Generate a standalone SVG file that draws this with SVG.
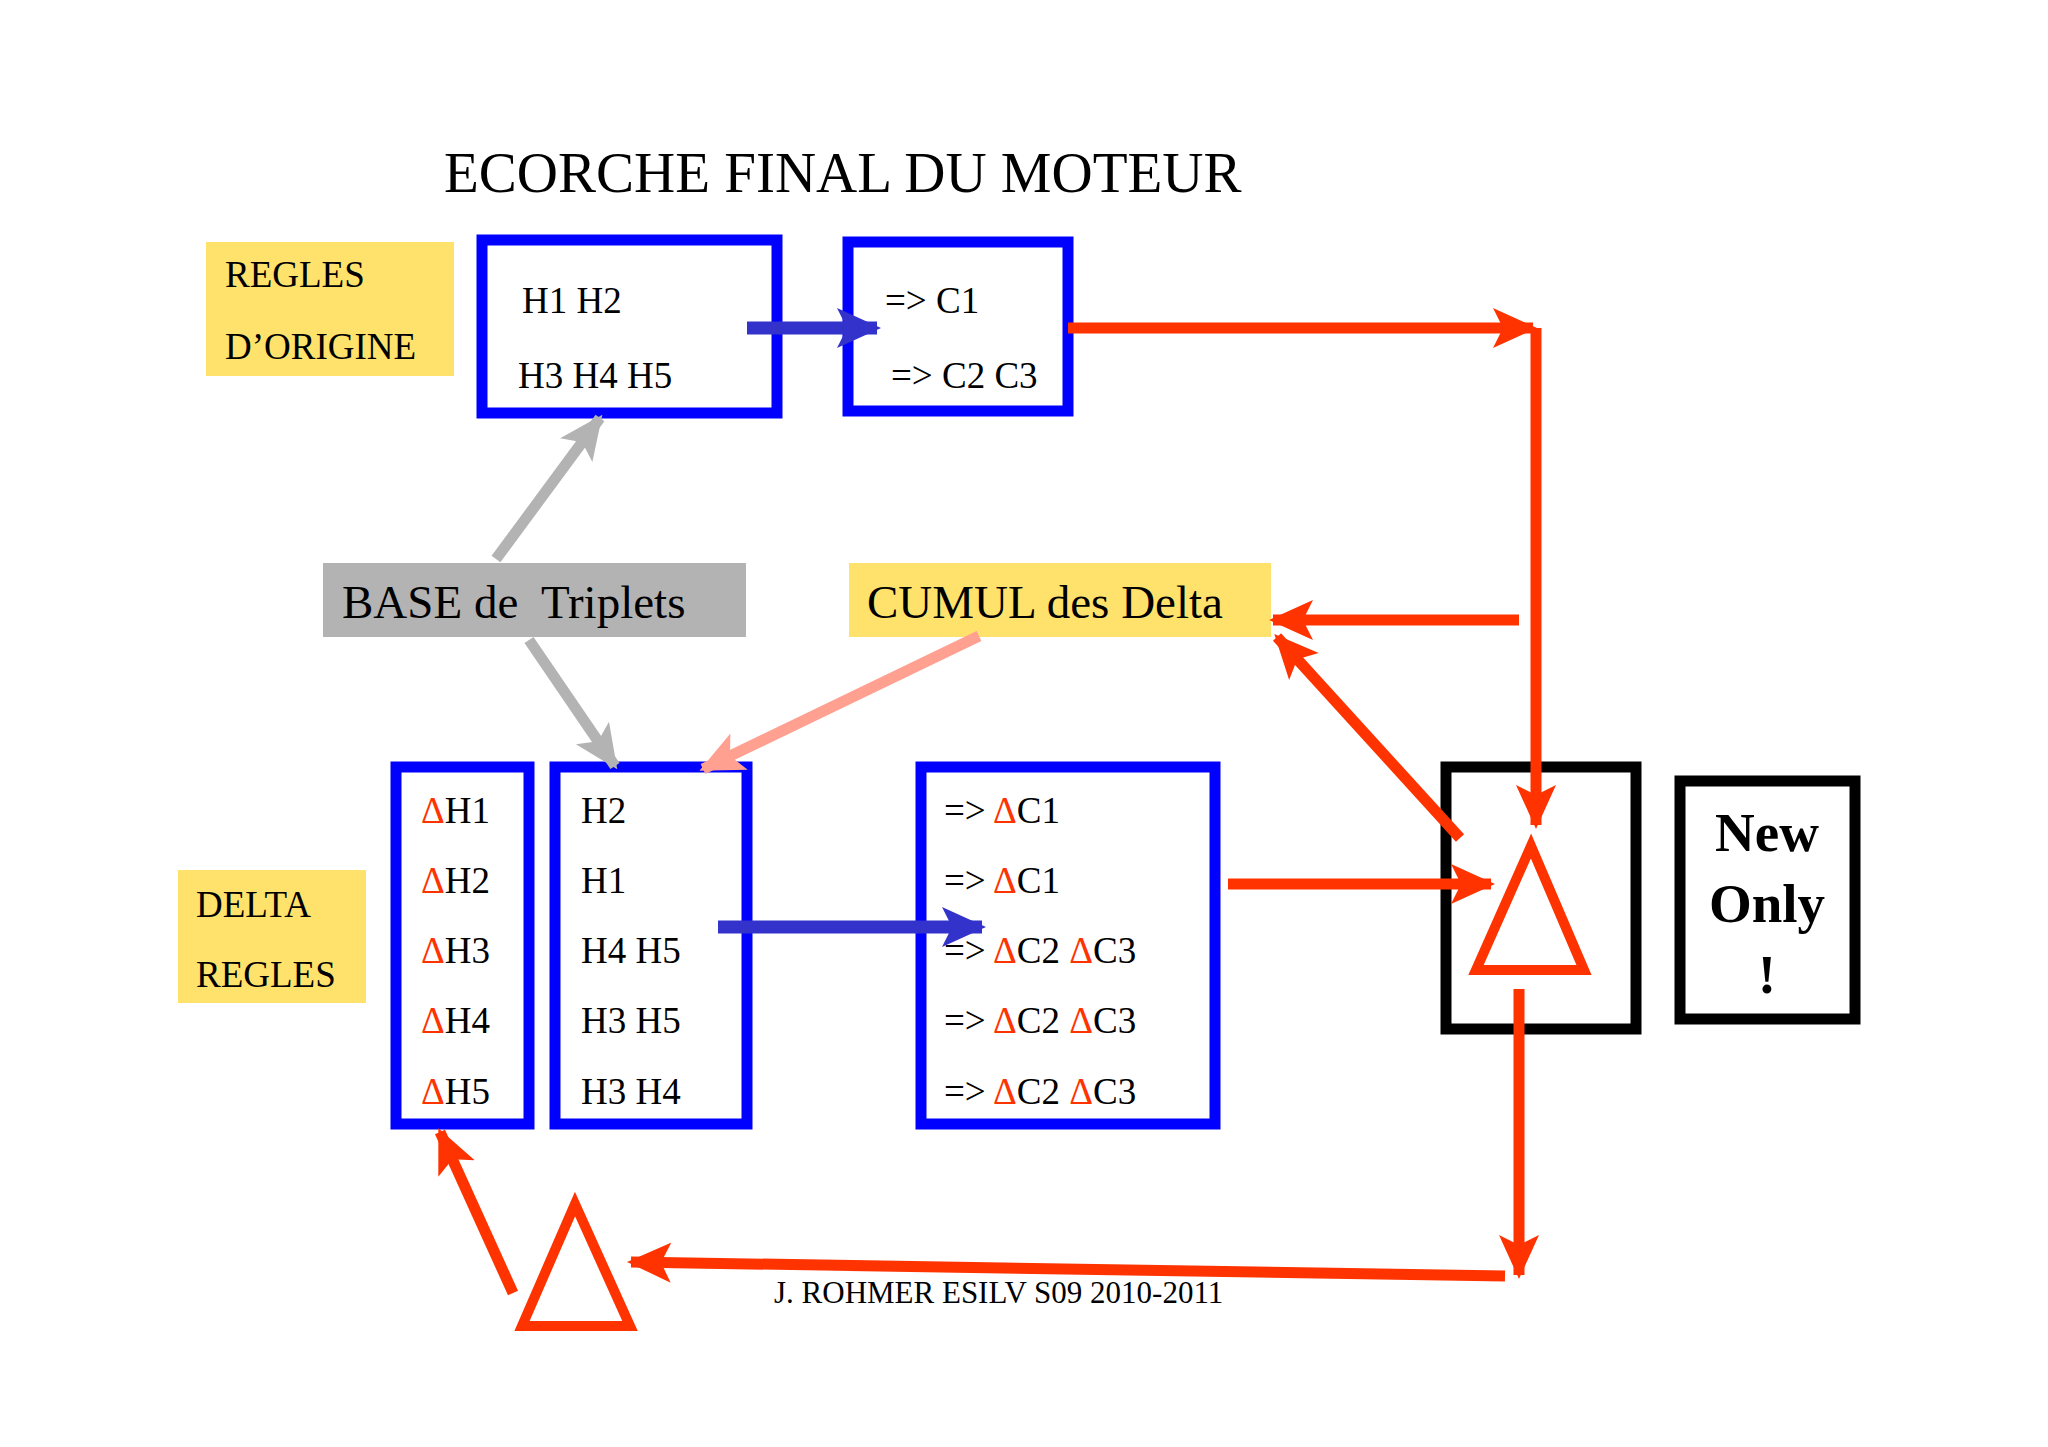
<svg xmlns="http://www.w3.org/2000/svg" width="2048" height="1447" viewBox="0 0 2048 1447">
<style>
text{font-family:"Liberation Serif","Times New Roman",serif;fill:#000}
.t{font-size:37px}
.big{font-size:47px}
.bx{fill:#fff;stroke:#0000ff;stroke-width:11}
.yl{fill:#ffe26b}
.d{fill:#ff3300}
.red{stroke:#ff3300;stroke-width:11;fill:none}
</style>
<defs>
<marker id="ar" markerUnits="userSpaceOnUse" markerWidth="44" markerHeight="44" refX="40" refY="22" orient="auto"><path d="M0,2 L44,22 L0,42 L10,22 Z" fill="#ff3300"/></marker>
<marker id="ab" markerUnits="userSpaceOnUse" markerWidth="44" markerHeight="44" refX="40" refY="22" orient="auto"><path d="M0,2 L44,22 L0,42 L10,22 Z" fill="#3333cc"/></marker>
<marker id="ag" markerUnits="userSpaceOnUse" markerWidth="44" markerHeight="44" refX="40" refY="22" orient="auto"><path d="M0,2 L44,22 L0,42 L10,22 Z" fill="#b3b3b3"/></marker>
<marker id="as" markerUnits="userSpaceOnUse" markerWidth="44" markerHeight="44" refX="40" refY="22" orient="auto"><path d="M0,2 L44,22 L0,42 L10,22 Z" fill="#ffa090"/></marker>
</defs>
<rect width="2048" height="1447" fill="#fff"/>
<text x="444" y="192" style="font-size:57px">ECORCHE FINAL DU MOTEUR</text>
<g id="regles-origine"><rect class="yl" x="206" y="242" width="248" height="134"/><text class="t" x="225" y="287">REGLES</text><text class="t" x="225" y="359">D’ORIGINE</text></g>
<g id="h-orig"><rect class="bx" x="482" y="240" width="295" height="173"/><text class="t" x="522" y="313">H1 H2</text><text class="t" x="518" y="388">H3 H4 H5</text></g>
<g id="c-orig"><rect class="bx" x="848" y="242" width="220" height="169"/><text class="t" x="885" y="313">=&gt; C1</text><text class="t" x="891" y="388">=&gt; C2 C3</text></g>
<g id="base"><rect fill="#b3b3b3" x="323" y="563" width="423" height="74"/><text class="big" x="342" y="618" xml:space="preserve">BASE de  Triplets</text></g>
<g id="cumul"><rect class="yl" x="849" y="563" width="422" height="74"/><text class="big" x="867" y="618">CUMUL des Delta</text></g>
<g id="delta-regles"><rect class="yl" x="178" y="870" width="188" height="133"/><text class="t" x="196" y="917">DELTA</text><text class="t" x="196" y="987">REGLES</text></g>
<g id="dh"><rect class="bx" x="396" y="767" width="133" height="357"/>
<text class="t" x="421" y="823"><tspan class="d">Δ</tspan>H1</text>
<text class="t" x="421" y="893"><tspan class="d">Δ</tspan>H2</text>
<text class="t" x="421" y="963"><tspan class="d">Δ</tspan>H3</text>
<text class="t" x="421" y="1033"><tspan class="d">Δ</tspan>H4</text>
<text class="t" x="421" y="1104"><tspan class="d">Δ</tspan>H5</text></g>
<g id="hl"><rect class="bx" x="555" y="767" width="192" height="357"/>
<text class="t" x="581" y="823">H2</text><text class="t" x="581" y="893">H1</text><text class="t" x="581" y="963">H4 H5</text><text class="t" x="581" y="1033">H3 H5</text><text class="t" x="581" y="1104">H3 H4</text></g>
<g id="dc"><rect class="bx" x="921" y="767" width="294" height="357"/>
<text class="t" x="944" y="823">=&gt; <tspan class="d">Δ</tspan>C1</text>
<text class="t" x="944" y="893">=&gt; <tspan class="d">Δ</tspan>C1</text>
<text class="t" x="944" y="963">=&gt; <tspan class="d">Δ</tspan>C2 <tspan class="d">Δ</tspan>C3</text>
<text class="t" x="944" y="1033">=&gt; <tspan class="d">Δ</tspan>C2 <tspan class="d">Δ</tspan>C3</text>
<text class="t" x="944" y="1104">=&gt; <tspan class="d">Δ</tspan>C2 <tspan class="d">Δ</tspan>C3</text></g>
<g id="delta-box"><rect x="1446" y="767" width="190" height="262" fill="none" stroke="#000" stroke-width="11"/><path d="M1531,846 L1476,970 L1584,970 Z" fill="none" stroke="#ff3300" stroke-width="10"/></g>
<g id="new-only"><rect x="1680" y="781" width="175" height="238" fill="none" stroke="#000" stroke-width="11"/>
<text x="1767" y="851" text-anchor="middle" style="font-size:55px;font-weight:bold">New</text>
<text x="1767" y="922" text-anchor="middle" style="font-size:55px;font-weight:bold">Only</text>
<text x="1767" y="993" text-anchor="middle" style="font-size:55px;font-weight:bold">!</text></g>
<g id="small-delta"><path d="M575,1204 L522,1326 L630,1326 Z" fill="none" stroke="#ff3300" stroke-width="10"/></g>
<text x="774" y="1303" style="font-size:31px">J. ROHMER ESILV S09 2010-2011</text>
<g id="connectors">
<line x1="747" y1="328" x2="877" y2="328" stroke="#3333cc" stroke-width="13" marker-end="url(#ab)"/>
<line x1="718" y1="927" x2="982" y2="927" stroke="#3333cc" stroke-width="13" marker-end="url(#ab)"/>
<line x1="1068" y1="328" x2="1533" y2="328" class="red" marker-end="url(#ar)"/>
<line x1="1536" y1="328" x2="1536" y2="825" class="red" marker-end="url(#ar)"/>
<line x1="1519" y1="620" x2="1273" y2="620" class="red" marker-end="url(#ar)"/>
<line x1="1460" y1="838" x2="1277" y2="637" class="red" marker-end="url(#ar)"/>
<line x1="1228" y1="884" x2="1491" y2="884" class="red" marker-end="url(#ar)"/>
<line x1="1519" y1="989" x2="1519" y2="1275" class="red" marker-end="url(#ar)"/>
<line x1="1505" y1="1276" x2="631" y2="1262" class="red" marker-end="url(#ar)"/>
<line x1="513" y1="1293" x2="440" y2="1132" class="red" marker-end="url(#ar)"/>
<line x1="496" y1="559" x2="600" y2="418" stroke="#b3b3b3" stroke-width="11" marker-end="url(#ag)"/>
<line x1="529" y1="640" x2="615" y2="766" stroke="#b3b3b3" stroke-width="11" marker-end="url(#ag)"/>
<line x1="979" y1="636" x2="703" y2="769" stroke="#ffa090" stroke-width="11" marker-end="url(#as)"/>
</g>
</svg>
